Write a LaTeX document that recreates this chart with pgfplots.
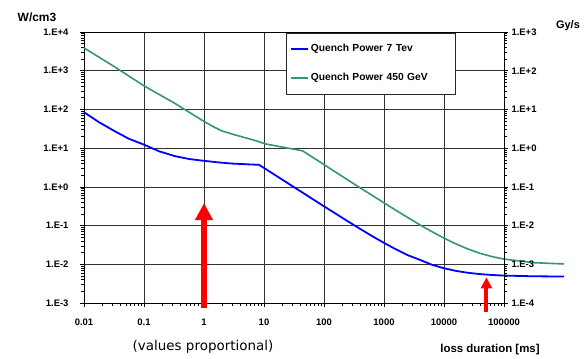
\documentclass[border=0pt]{standalone}
\usepackage{fontspec}
\setmainfont{Liberation Sans}
\newfontfamily\vfont{DejaVu Sans}
\usepackage{pgfplots}
\pgfplotsset{compat=1.18}
\usetikzlibrary{arrows.meta}
\definecolor{qblue}{RGB}{0,0,255}
\definecolor{qgreen}{RGB}{51,153,102}
\begin{document}
\begin{tikzpicture}[x=1bp,y=1bp]
\path[use as bounding box] (-84,-55) rectangle (502,303);
\begin{axis}[
  at={(0,0)}, anchor=south west,
  scale only axis, width=420bp, height=271bp,
  xmode=log, ymode=log,
  xmin=0.01, xmax=100000, ymin=0.001, ymax=10000,
  clip=false,
  axis line style={black, line width=0.8bp},
  grid=major, major grid style={black!80, line width=0.6bp},
  tick pos=left, tick align=outside, major tick length=4bp,
  tick style={black, line width=0.6bp},
  minor tick num=0,
  xtick={0.01,0.1,1,10,100,1000,10000,100000},
  xticklabels={0.01,0.1,1,10,100,1000,10000,100000},
  ytick={0.001,0.01,0.1,1,10,100,1000,10000},
  yticklabels={1.E-3,1.E-2,1.E-1,1.E+0,1.E+1,1.E+2,1.E+3,1.E+4},
  ticklabel style={font=\bfseries\fontsize{9.5}{10}\selectfont},
  yticklabel style={xshift=-8bp},
  xticklabel style={yshift=-8bp},
  legend cell align=left,
  legend style={at={(axis description cs:0.4805,0.9975)}, anchor=north west,
    draw=black!85, fill=white,
    inner xsep=4bp, inner ysep=9.5bp, row sep=16bp,
    font=\bfseries\fontsize{10.3}{11}\selectfont,
    nodes={inner sep=2bp, text width=138bp}},
]
\addplot[qblue, line width=1.8bp] coordinates {
 (0.01,85) (0.0178,46.8) (0.0331,27) (0.0562,17.4) (0.1,12.3) (0.178,8.3)
 (0.331,6.2) (0.562,5.25) (1,4.7) (1.78,4.27) (2.9,4.0) (8.3,3.7)
 (100,0.314) (200,0.160) (398,0.0824) (631,0.0538) (1000,0.0357)
 (1585,0.0243) (2512,0.0171) (3981,0.0130) (6310,0.0097) (10000,0.0079)
 (15849,0.00675) (25119,0.00603) (39811,0.00558) (63096,0.00529)
 (100000,0.00511) (316228,0.0049) (1000000,0.00483)
};
\addlegendentry{Quench Power 7 Tev}
\addplot[qgreen, line width=1.6bp] coordinates {
 (0.01,3890) (0.0316,1290) (0.1,407) (0.316,148) (1,49) (1.41,36.3)
 (1.95,28.2) (3.16,22.4) (7.1,15.8) (10.5,12.9) (44,8.5) (100,3.76)
 (316,1.19) (1000,0.386) (1585,0.247) (2512,0.160) (3981,0.104)
 (6310,0.0694) (10000,0.0474) (15849,0.0335) (25119,0.0248)
 (39811,0.0192) (63096,0.0158) (100000,0.0136) (316228,0.0110)
 (1000000,0.0102)
};
\addlegendentry{Quench Power 450 GeV}
\draw[red, line width=6bp, -{Triangle[width=17bp,length=17bp]}]
  (axis cs:1,0.00076) -- (axis cs:1,0.38);
\draw[red, line width=4bp, -{Triangle[width=11bp,length=11bp]}]
  (axis cs:51000,0.00059) -- (axis cs:51000,0.0046);
\end{axis}
\begin{axis}[
  at={(0,0)}, anchor=south west,
  scale only axis, width=420bp, height=271bp,
  xmode=log, ymode=log,
  xmin=0.01, xmax=100000, ymin=0.0001, ymax=1000,
  axis x line=none, axis y line*=right,
  axis line style={black, line width=0.8bp},
  tick align=outside, major tick length=4bp,
  tick style={black, line width=0.6bp},
  ytick={0.0001,0.001,0.01,0.1,1,10,100,1000},
  yticklabels={1.E-4,1.E-3,1.E-2,1.E-1,1.E+0,1.E+1,1.E+2,1.E+3},
  ticklabel style={font=\bfseries\fontsize{9.5}{10}\selectfont},
]
\end{axis}
\node[font=\bfseries\fontsize{12}{13}\selectfont] at (-47,286) {W/cm3};
\node[font=\bfseries\fontsize{11}{12}\selectfont] at (484,277) {Gy/s};
\node[font=\vfont\fontsize{13.5}{15}\selectfont] at (119,-44) {(values proportional)};
\node[font=\bfseries\fontsize{11.5}{12}\selectfont] at (406,-47) {loss duration [ms]};
\end{tikzpicture}
\end{document}
